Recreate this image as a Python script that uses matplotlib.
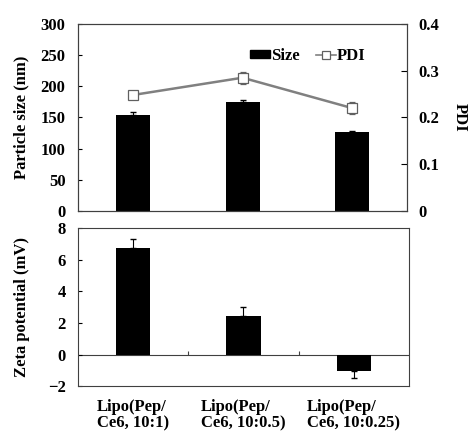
import matplotlib.pyplot as plt
from matplotlib.patches import Patch
from matplotlib.lines import Line2D
import numpy as np

plt.rcParams['font.family'] = 'Liberation Serif'
plt.rcParams['font.weight'] = 'bold'

groups = ['Lipo(Pep/\nCe6, 10:1)', 'Lipo(Pep/\nCe6, 10:0.5)', 'Lipo(Pep/\nCe6, 10:0.25)']
size_nm = [154, 175, 127]
size_err = [5, 3, 2]
pdi = [0.248, 0.285, 0.220]
pdi_err = [0.006, 0.013, 0.012]
zeta = [6.75, 2.43, -1.03]
zeta_err = [0.55, 0.6, 0.45]

x = np.arange(len(groups))
w = 0.31

fig = plt.figure(figsize=(4.7, 4.32), dpi=100)

# top panel: size bars + PDI line
ax1 = fig.add_axes([0.166, 0.5116, 0.700, 0.433])
ax1.bar(x, size_nm, width=w, color='black', zorder=2)
ax1.errorbar(x, size_nm, yerr=[np.zeros(3), size_err], fmt='none', ecolor='black',
             elinewidth=0.8, capsize=2, zorder=3)
ax1.set_xlim(-0.5, 2.5)
ax1.set_ylim(0, 300)
ax1.set_yticks(np.arange(0, 301, 50))
ax1.set_xticks([])
ax1.tick_params(axis='y', direction='in', length=3, labelsize=12, pad=9)
ax1.set_ylabel('Particle size (nm)', fontsize=12, fontweight='bold', labelpad=8)

ax2 = ax1.twinx()
ax2.errorbar(x, pdi, yerr=pdi_err, color='#808080', lw=1.8, marker='s', ms=7,
             mfc='white', mec='#606060', mew=0.9, ecolor='#606060', elinewidth=0.8,
             capsize=2, zorder=4)
ax2.set_ylim(0, 0.4)
ax2.set_yticks([0, 0.1, 0.2, 0.3, 0.4])
ax2.set_yticklabels(['0', '0.1', '0.2', '0.3', '0.4'])
ax2.tick_params(axis='y', direction='in', length=4, labelsize=12, pad=8)
ax2.set_ylabel('PDI', fontsize=12, fontweight='bold', rotation=270, labelpad=21)

handles = [Patch(color='black'),
           Line2D([], [], color='#808080', lw=1.2, marker='s', ms=6,
                  mfc='white', mec='#606060', mew=0.9)]
ax1.legend(handles, ['Size', 'PDI'], loc='upper right', ncol=2, frameon=False,
           bbox_to_anchor=(0.92, 0.95), handlelength=1.2, handleheight=0.35,
           handletextpad=0.05, columnspacing=1.0, prop={'weight': 'bold', 'size': 12})

for ax in (ax1, ax2):
    for s in ax.spines.values():
        s.set_color('#404040')
        s.set_linewidth(0.8)

# bottom panel: zeta potential
ax3 = fig.add_axes([0.166, 0.106, 0.704, 0.366])
ax3.bar(x, zeta, width=w, color='black', zorder=2)
lo = [0 if v >= 0 else e for v, e in zip(zeta, zeta_err)]
hi = [e if v >= 0 else 0 for v, e in zip(zeta, zeta_err)]
ax3.errorbar(x, zeta, yerr=[lo, hi], fmt='none', ecolor='black', elinewidth=0.8,
             capsize=2, zorder=3)
ax3.axhline(0, color='#404040', lw=0.8, zorder=1)
ax3.vlines([0.5, 1.5], 0, 0.2, color='#404040', lw=0.8)
ax3.set_xlim(-0.5, 2.5)
ax3.set_ylim(-2, 8)
ax3.set_yticks(np.arange(-2, 9, 2))
ax3.set_xticks(x)
ax3.set_xticklabels(groups, fontsize=12, fontweight='bold', multialignment='left',
                    linespacing=1.05)
ax3.tick_params(axis='x', length=0, pad=9)
ax3.tick_params(axis='y', direction='in', length=3, labelsize=12, pad=9)
ax3.set_ylabel('Zeta potential (mV)', fontsize=12, fontweight='bold', labelpad=13)
for s in ax3.spines.values():
    s.set_color('#404040')
    s.set_linewidth(0.8)

fig.savefig('out.png', dpi=100)
